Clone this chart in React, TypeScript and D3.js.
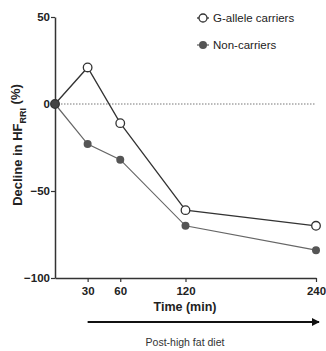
import { useEffect, useRef } from 'react';
import * as d3 from 'd3';

const times = [0, 30, 60, 120, 240];
const carriers = [0, 21, -11, -61, -70];
const nonCarriers = [0, -23, -32, -70, -84];
const xTicks = [30, 60, 120, 240];
const yTicks = [50, 0, -50, -100];

export default function App() {
  const ref = useRef<SVGSVGElement>(null);
  const width = 326;
  const height = 351;
  const font = 'Liberation Sans, Arial, sans-serif';

  useEffect(() => {
    const svg = d3.select(ref.current);
    svg.selectAll('*').remove();

    const x = d3.scaleLinear().domain([0, 240]).range([55, 316]);
    const y = d3.scaleLinear().domain([-100, 50]).range([278, 17]);

    // arrow marker
    svg.append('defs')
      .append('marker')
      .attr('id', 'arr')
      .attr('viewBox', '0 0 10 10')
      .attr('refX', 9)
      .attr('refY', 5)
      .attr('markerWidth', 8)
      .attr('markerHeight', 8)
      .attr('markerUnits', 'userSpaceOnUse')
      .attr('orient', 'auto')
      .append('path')
      .attr('d', 'M0,0L10,5L0,10z')
      .attr('fill', '#111');

    // zero line
    svg.append('line')
      .attr('x1', x(0)).attr('x2', x(240))
      .attr('y1', y(0)).attr('y2', y(0))
      .attr('stroke', '#777')
      .attr('stroke-width', 1)
      .attr('stroke-dasharray', '1.5,1.5');

    const yAxis = d3.axisLeft(y).tickValues(yTicks).tickSize(4).tickSizeOuter(0);
    const gy = svg.append('g')
      .attr('transform', `translate(${x(0)},0)`)
      .call(yAxis);
    gy.selectAll('text')
      .attr('font-family', font)
      .attr('font-weight', 'bold')
      .attr('font-size', 11.5)
      .attr('fill', '#222')
      .attr('dx', 2);

    const xAxis = d3.axisBottom(x).tickValues(xTicks).tickSize(4).tickSizeOuter(0);
    const gx = svg.append('g')
      .attr('transform', `translate(0,${y(-100)})`)
      .call(xAxis);
    gx.selectAll('text')
      .attr('font-family', font)
      .attr('font-weight', 'bold')
      .attr('font-size', 11.5)
      .attr('fill', '#222')
      .attr('dy', '0.9em');

    svg.selectAll('.domain').attr('stroke', '#333').attr('stroke-width', 1.5);
    svg.selectAll('.tick line').attr('stroke', '#333').attr('stroke-width', 1.2);

    const line = d3.line<number>()
      .x((_, i) => x(times[i]))
      .y((d) => y(d));

    svg.append('path')
      .datum(nonCarriers)
      .attr('d', line)
      .attr('fill', 'none')
      .attr('stroke', '#666')
      .attr('stroke-width', 1.2);

    svg.append('path')
      .datum(carriers)
      .attr('d', line)
      .attr('fill', 'none')
      .attr('stroke', '#333')
      .attr('stroke-width', 1.3);

    svg.append('g')
      .selectAll('circle')
      .data(nonCarriers)
      .enter()
      .append('circle')
      .attr('cx', (_, i) => x(times[i]))
      .attr('cy', (d) => y(d))
      .attr('r', 4)
      .attr('fill', '#555');

    svg.append('g')
      .selectAll('circle')
      .data(carriers)
      .enter()
      .append('circle')
      .attr('cx', (_, i) => x(times[i]))
      .attr('cy', (d) => y(d))
      .attr('r', 4.3)
      .attr('fill', (_, i) => (i === 0 ? '#444' : '#fff'))
      .attr('stroke', '#333')
      .attr('stroke-width', 1.3);

    // legend
    const legend = [
      { label: 'G-allele carriers', open: true, stroke: '#333' },
      { label: 'Non-carriers', open: false, stroke: '#666' },
    ];
    const lg = svg.append('g');
    legend.forEach((d, i) => {
      const ly = 18 + i * 27;
      lg.append('line')
        .attr('x1', 197).attr('x2', 209)
        .attr('y1', ly).attr('y2', ly)
        .attr('stroke', d.stroke)
        .attr('stroke-width', 1.3);
      lg.append('circle')
        .attr('cx', 203).attr('cy', ly)
        .attr('r', 4)
        .attr('fill', d.open ? '#fff' : '#555')
        .attr('stroke', d.open ? '#333' : 'none')
        .attr('stroke-width', 1.3);
      lg.append('text')
        .attr('x', 213).attr('y', ly)
        .attr('dy', '0.35em')
        .attr('font-family', font)
        .attr('font-size', 11.5)
        .attr('fill', '#222')
        .text(d.label);
    });

    // axis titles
    svg.append('text')
      .attr('x', 185).attr('y', 307)
      .attr('dy', '0.35em')
      .attr('text-anchor', 'middle')
      .attr('font-family', font)
      .attr('font-weight', 'bold')
      .attr('font-size', 12.5)
      .attr('fill', '#222')
      .text('Time (min)');

    const yt = svg.append('text')
      .attr('transform', 'translate(17,145) rotate(-90)')
      .attr('dy', '0.35em')
      .attr('text-anchor', 'middle')
      .attr('font-family', font)
      .attr('font-weight', 'bold')
      .attr('font-size', 13)
      .attr('fill', '#222');
    yt.append('tspan').text('Decline in HF');
    yt.append('tspan').attr('font-size', 9).attr('dy', '0.5em').text('RRI');
    yt.append('tspan').attr('dy', '-0.5em').text(' (%)');

    // post-diet arrow
    svg.append('line')
      .attr('x1', x(30)).attr('x2', 319)
      .attr('y1', 322).attr('y2', 322)
      .attr('stroke', '#111')
      .attr('stroke-width', 2)
      .attr('marker-end', 'url(#arr)');

    svg.append('text')
      .attr('x', 185).attr('y', 342)
      .attr('dy', '0.35em')
      .attr('text-anchor', 'middle')
      .attr('font-family', font)
      .attr('font-size', 10.5)
      .attr('fill', '#333')
      .text('Post-high fat diet');
  }, []);

  return (
    <svg
      ref={ref}
      width={width}
      height={height}
      style={{ position: 'absolute', left: 0, top: 0, background: '#fff' }}
    />
  );
}
